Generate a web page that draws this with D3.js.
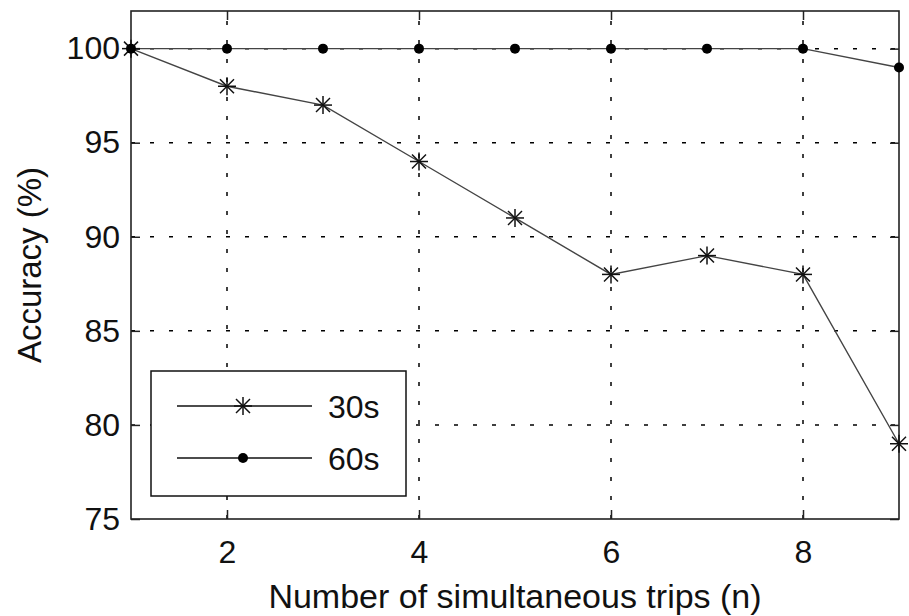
<!DOCTYPE html>
<html>
<head>
<meta charset="utf-8">
<script src="https://cdn.jsdelivr.net/npm/d3@7"></script>
<style>
  html, body { margin: 0; padding: 0; background: #fff; }
  svg { display: block; font-family: "Liberation Sans", Arial, Helvetica, sans-serif; }
</style>
</head>
<body>
<svg id="chart" width="909" height="616"></svg>
<script>
const trips = [1, 2, 3, 4, 5, 6, 7, 8, 9];
const acc30 = [100, 98, 97, 94, 91, 88, 89, 88, 79];
const acc60 = [100, 100, 100, 100, 100, 100, 100, 100, 99];
const seriesNames = ["30s", "60s"];
const xTicks = [2, 4, 6, 8];
const yTicks = [75, 80, 85, 90, 95, 100];
const xLabel = "Number of simultaneous trips (n)";
const yLabel = "Accuracy (%)";

const svg = d3.select("#chart");
const L = 131, R = 899, T = 11, B = 519;
const x = d3.scaleLinear().domain([1, 9]).range([L, R]);
const y = d3.scaleLinear().domain([75, 102]).range([B, T]);
const ink = "#111";
const fs = 32;
const fsLabel = 34;

// grid
const grid = svg.append("g").attr("stroke", "#000").attr("stroke-width", 1.5)
  .attr("stroke-dasharray", "4,15");
grid.selectAll("line.gx").data(xTicks).join("line")
  .attr("x1", d => x(d)).attr("x2", d => x(d)).attr("y1", B).attr("y2", T);
grid.selectAll("line.gy").data(yTicks.filter(d => d > 75)).join("line")
  .attr("y1", d => y(d)).attr("y2", d => y(d)).attr("x1", L).attr("x2", R);

// axes with inward ticks
const ax = svg.append("g").attr("transform", `translate(0,${B})`)
  .call(d3.axisBottom(x).tickValues(xTicks).tickSize(-9).tickSizeOuter(0).tickPadding(21));
const axT = svg.append("g").attr("transform", `translate(0,${T})`)
  .call(d3.axisTop(x).tickValues(xTicks).tickSize(-9).tickSizeOuter(0).tickFormat(""));
const ay = svg.append("g").attr("transform", `translate(${L},0)`)
  .call(d3.axisLeft(y).tickValues(yTicks).tickSize(-9).tickSizeOuter(0).tickPadding(11));
const ayR = svg.append("g").attr("transform", `translate(${R},0)`)
  .call(d3.axisRight(y).tickValues(yTicks).tickSize(-9).tickSizeOuter(0).tickFormat(""));
[ax, axT, ay, ayR].forEach(g => {
  g.select(".domain").remove();
  g.selectAll(".tick line").attr("stroke", "#222").attr("stroke-width", 1.5);
  g.selectAll(".tick text").attr("fill", ink).style("font-size", fs + "px")
    .style("font-family", "'Liberation Sans', Arial, sans-serif");
});

// frame
svg.append("rect").attr("x", L).attr("y", T).attr("width", R - L).attr("height", B - T)
  .attr("fill", "none").attr("stroke", "#222").attr("stroke-width", 1.6);

// lines
const line = d3.line().x((d, i) => x(trips[i])).y(d => y(d));
[acc30, acc60].forEach(arr => {
  svg.append("path").datum(arr).attr("d", line).attr("fill", "none")
    .attr("stroke", "#444").attr("stroke-width", 1.4);
});

function asterisk(g, cx, cy) {
  const r = 9, dd = 7;
  const segs = [[0, -r, 0, r], [-r, 0, r, 0], [-dd, -dd, dd, dd], [-dd, dd, dd, -dd]];
  g.append("g").selectAll("line").data(segs).join("line")
    .attr("x1", s => cx + s[0]).attr("y1", s => cy + s[1])
    .attr("x2", s => cx + s[2]).attr("y2", s => cy + s[3])
    .attr("stroke", "#111").attr("stroke-width", 1.5);
}
acc30.forEach((v, i) => asterisk(svg, x(trips[i]), y(v)));
svg.append("g").selectAll("circle").data(acc60).join("circle")
  .attr("cx", (d, i) => x(trips[i])).attr("cy", d => y(d)).attr("r", 5).attr("fill", "#000");

// legend
const lg = svg.append("g");
lg.append("rect").attr("x", 151).attr("y", 371).attr("width", 255).attr("height", 125)
  .attr("fill", "#fff").attr("stroke", "#111").attr("stroke-width", 1.5);
const rows = [406, 458];
seriesNames.forEach((name, i) => {
  const ry = rows[i];
  lg.append("line").attr("x1", 177).attr("x2", 312).attr("y1", ry).attr("y2", ry)
    .attr("stroke", "#111").attr("stroke-width", 1.5);
  if (i === 0) asterisk(lg, 243, ry);
  else lg.append("circle").attr("cx", 243).attr("cy", ry).attr("r", 5).attr("fill", "#000");
  lg.append("text").attr("x", 328).attr("y", ry).attr("dy", "0.36em")
    .attr("fill", ink).style("font-size", fs + "px").text(name);
});

// axis labels
svg.append("text").attr("x", (L + R) / 2).attr("y", 608).attr("text-anchor", "middle")
  .attr("fill", ink).style("font-size", fsLabel + "px").text(xLabel);
svg.append("text").attr("transform", `translate(41,${(T + B) / 2}) rotate(-90)`)
  .attr("text-anchor", "middle").attr("fill", ink).style("font-size", "33px").text(yLabel);
</script>
</body>
</html>
